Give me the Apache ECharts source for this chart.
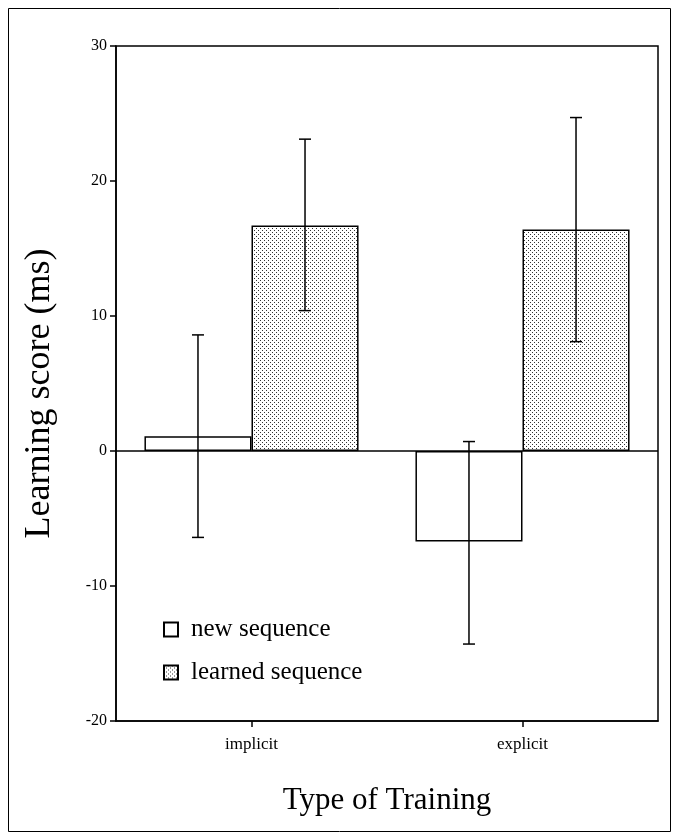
<!DOCTYPE html>
<html>
<head>
<meta charset="utf-8">
<script src="https://cdn.jsdelivr.net/npm/echarts@6/dist/echarts.min.js"></script>
<style>html,body{margin:0;padding:0;background:#fff}#c{width:677px;height:839px}</style>
</head>
<body>
<div id="c"></div>
<script>
const categories = ['implicit', 'explicit'];
const seriesNames = ['new sequence', 'learned sequence'];
const newSeq = [1.1, -6.7];
const newSeqLow = [-6.4, -14.3];
const newSeqHigh = [8.6, 0.7];
const learnedSeq = [16.7, 16.4];
const learnedLow = [10.4, 8.1];
const learnedHigh = [23.1, 24.7];
const yTicks = [-20, -10, 0, 10, 20, 30];

const FONT = '"Liberation Serif", "DejaVu Serif", serif';
const GAP = 0.21;

function makeDots() {
  const c = document.createElement('canvas');
  c.width = 4; c.height = 4;
  const g = c.getContext('2d');
  g.fillStyle = '#ffffff';
  g.fillRect(0, 0, 4, 4);
  g.fillStyle = '#333333';
  g.fillRect(0, 0, 1, 1);
  g.fillRect(2, 2, 1, 1);
  return c;
}
const dotPattern = { image: makeDots(), repeat: 'repeat' };

function errSeries(low, high, which) {
  return {
    type: 'custom',
    silent: true,
    z: 5,
    data: low.map((l, i) => [i, l, high[i]]),
    renderItem: function (params, api) {
      const i = api.value(0);
      const band = api.size([1, 0])[0];
      const off = band * (1 - GAP) / 4 * (which === 0 ? -1 : 1);
      const pLow = api.coord([i, api.value(1)]);
      const pHigh = api.coord([i, api.value(2)]);
      const x = pLow[0] + off;
      const cap = 6;
      const st = { stroke: '#000', lineWidth: 1.5 };
      return {
        type: 'group',
        children: [
          { type: 'line', shape: { x1: x, y1: pLow[1], x2: x, y2: pHigh[1] }, style: st },
          { type: 'line', shape: { x1: x - cap, y1: pLow[1], x2: x + cap, y2: pLow[1] }, style: st },
          { type: 'line', shape: { x1: x - cap, y1: pHigh[1], x2: x + cap, y2: pHigh[1] }, style: st }
        ]
      };
    }
  };
}

const chart = echarts.init(document.getElementById('c'), null, { renderer: 'canvas' });
chart.setOption({
  animation: false,
  backgroundColor: '#fff',
  textStyle: { fontFamily: FONT, color: '#000' },
  grid: { left: 116, top: 46, right: 19, bottom: 118, show: true, borderColor: '#000', borderWidth: 1.5, containLabel: false },
  legend: {
    orient: 'vertical',
    left: 158, top: 612,
    itemWidth: 14, itemHeight: 14, itemGap: 18,
    icon: 'rect',
    data: seriesNames,
    textStyle: { fontFamily: FONT, fontSize: 25, lineHeight: 25, color: '#000', padding: [0, 0, 0, 8] }
  },
  xAxis: {
    type: 'category',
    data: categories,
    name: 'Type of Training',
    nameLocation: 'middle',
    nameGap: 64,
    nameTextStyle: { fontFamily: FONT, fontSize: 31, color: '#000' },
    axisLine: { onZero: false, lineStyle: { color: '#000', width: 1.5 } },
    axisTick: { show: true, alignWithLabel: true, length: 6, lineStyle: { color: '#000', width: 1.5 } },
    axisLabel: { fontFamily: FONT, fontSize: 17, color: '#000', margin: 15 },
    splitLine: { show: false }
  },
  yAxis: {
    type: 'value',
    min: yTicks[0], max: yTicks[yTicks.length - 1], interval: 10,
    name: 'Learning score (ms)',
    nameLocation: 'middle',
    nameGap: 58,
    nameTextStyle: { fontFamily: FONT, fontSize: 36, color: '#000', padding: [0, 20, 0, 0] },
    axisLine: { show: true, lineStyle: { color: '#000', width: 1.5 } },
    axisTick: { show: true, length: 6, lineStyle: { color: '#000', width: 1.5 } },
    axisLabel: { fontFamily: FONT, fontSize: 16, color: '#000', margin: 9 },
    splitLine: { show: false }
  },
  series: [
    {
      name: seriesNames[0], type: 'bar', data: newSeq,
      barGap: '0%', barCategoryGap: (GAP * 100) + '%',
      itemStyle: { color: '#fff', borderColor: '#000', borderWidth: 1.5 },
      markLine: {
        silent: true, symbol: 'none', label: { show: false },
        lineStyle: { color: '#000', width: 1.5, type: 'solid' },
        data: [{ yAxis: 0 }]
      }
    },
    {
      name: seriesNames[1], type: 'bar', data: learnedSeq,
      itemStyle: { color: dotPattern, borderColor: '#000', borderWidth: 1.5 }
    },
    errSeries(newSeqLow, newSeqHigh, 0),
    errSeries(learnedLow, learnedHigh, 1)
  ],
  graphic: [
    { type: 'rect', shape: { x: 8.5, y: 8.5, width: 662, height: 823 }, style: { fill: null, stroke: '#000', lineWidth: 1 }, silent: true }
  ]
});
</script>
</body>
</html>
